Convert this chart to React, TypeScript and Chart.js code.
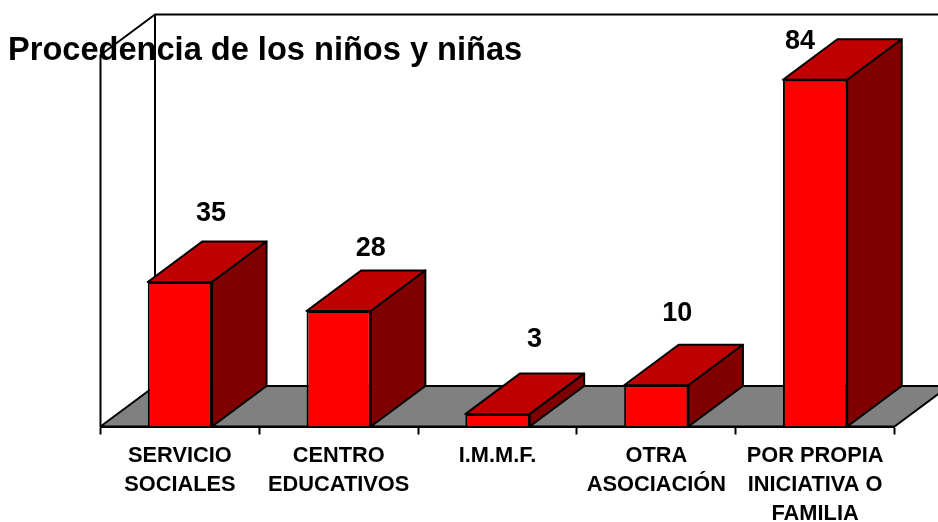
import React, { useEffect, useRef } from "react";
import { Chart, registerables } from "chart.js";

Chart.register(...registerables);

const titleText = "Procedencia de los niños y niñas";
const categories: string[][] = [
  ["SERVICIO", "SOCIALES"],
  ["CENTRO", "EDUCATIVOS"],
  ["I.M.M.F."],
  ["OTRA", "ASOCIACIÓN"],
  ["POR PROPIA", "INICIATIVA O", "FAMILIA"],
];
const values: number[] = [35, 28, 3, 10, 84];
const yMin = 0;
const yMax = 90;

const FONT = "'Liberation Sans', Arial, sans-serif";
const DEPTH_X = 54.5;
const DEPTH_Y = 40.5;
// hand-placed value label offsets from the top centre of each bar's front face
const LABEL_OFFSETS: [number, number][] = [
  [31, -68.5],
  [32, -62.5],
  [37, -75],
  [21, -71.5],
  [-15, -38.5],
];

function poly(ctx: CanvasRenderingContext2D, pts: [number, number][], fill: string | null) {
  ctx.beginPath();
  pts.forEach(([x, y], i) => (i ? ctx.lineTo(x, y) : ctx.moveTo(x, y)));
  ctx.closePath();
  if (fill) {
    ctx.fillStyle = fill;
    ctx.fill();
  }
  ctx.stroke();
}

const box3d = {
  id: "box3d",
  beforeDraw(chart: any) {
    const { ctx, chartArea: a, width } = chart;
    const far = width + 60;
    ctx.save();
    ctx.strokeStyle = "#000";
    ctx.lineWidth = 2;
    ctx.lineJoin = "round";
    poly(
      ctx,
      [
        [a.left, a.bottom],
        [a.left + DEPTH_X, a.bottom - DEPTH_Y],
        [a.right + DEPTH_X, a.bottom - DEPTH_Y],
        [a.right, a.bottom],
      ],
      "#808080"
    );
    ctx.beginPath();
    ctx.moveTo(a.left, a.bottom);
    ctx.lineTo(a.left, a.top);
    ctx.lineTo(a.left + DEPTH_X, a.top - DEPTH_Y);
    ctx.lineTo(far, a.top - DEPTH_Y);
    ctx.moveTo(a.left + DEPTH_X, a.top - DEPTH_Y);
    ctx.lineTo(a.left + DEPTH_X, a.bottom - DEPTH_Y);
    ctx.stroke();
    ctx.restore();
  },
  afterDatasetsDraw(chart: any) {
    const { ctx } = chart;
    const meta = chart.getDatasetMeta(0);
    ctx.save();
    ctx.strokeStyle = "#000";
    ctx.lineWidth = 2;
    ctx.lineJoin = "round";
    meta.data.forEach((bar: any, i: number) => {
      const l = bar.x - bar.width / 2;
      const r = bar.x + bar.width / 2;
      const t = bar.y;
      const b = bar.base;
      poly(
        ctx,
        [
          [l, t],
          [l + DEPTH_X, t - DEPTH_Y],
          [r + DEPTH_X, t - DEPTH_Y],
          [r, t],
        ],
        "#c00000"
      );
      poly(
        ctx,
        [
          [r, t],
          [r + DEPTH_X, t - DEPTH_Y],
          [r + DEPTH_X, b - DEPTH_Y],
          [r, b],
        ],
        "#800000"
      );
      const [dx, dy] = LABEL_OFFSETS[i];
      ctx.fillStyle = "#000";
      ctx.font = `bold 27px ${FONT}`;
      ctx.textAlign = "center";
      ctx.textBaseline = "middle";
      ctx.fillText(String(values[i]), bar.x + dx, t + dy);
    });
    ctx.restore();
  },
};

export default function App() {
  const ref = useRef<HTMLCanvasElement>(null);
  useEffect(() => {
    document.body.style.margin = "0";
    document.body.style.overflow = "hidden";
    const chart = new Chart(ref.current!, {
      type: "bar",
      data: {
        labels: categories,
        datasets: [
          {
            data: values,
            backgroundColor: "#ff0000",
            borderColor: "#000000",
            borderWidth: 2,
            categoryPercentage: 1,
            barPercentage: 0.405,
          },
        ],
      },
      options: {
        responsive: false,
        animation: false,
        events: [],
        layout: { padding: { left: 8, right: 43.5, top: 8, bottom: 0 } },
        plugins: {
          legend: { display: false },
          tooltip: { enabled: false },
          title: {
            display: true,
            text: titleText,
            align: "start",
            color: "#000",
            font: { family: FONT, size: 32.6, weight: "bold", lineHeight: 1.2 },
            padding: { top: 23.5, bottom: -15.6 },
          },
        },
        scales: {
          x: {
            offset: true,
            afterFit: (s: any) => {
              s.height = 95.5;
            },
            border: { display: true, color: "#000", width: 2 },
            grid: {
              display: true,
              offset: true,
              drawOnChartArea: false,
              drawTicks: true,
              tickLength: 8,
              tickWidth: 2,
              tickColor: "#000",
            },
            ticks: {
              autoSkip: false,
              maxRotation: 0,
              minRotation: 0,
              padding: 7,
              color: "#000",
              font: { family: FONT, size: 21.8, weight: "bold", lineHeight: 1.33 },
            },
          },
          y: {
            display: true,
            min: yMin,
            max: yMax,
            afterFit: (s: any) => {
              s.width = 92.5;
            },
            border: { display: false },
            grid: { display: false },
            ticks: { display: false },
          },
        },
      },
      plugins: [box3d],
    } as any);
    return () => chart.destroy();
  }, []);
  return <canvas ref={ref} width={938} height={522} style={{ display: "block" }} />;
}
